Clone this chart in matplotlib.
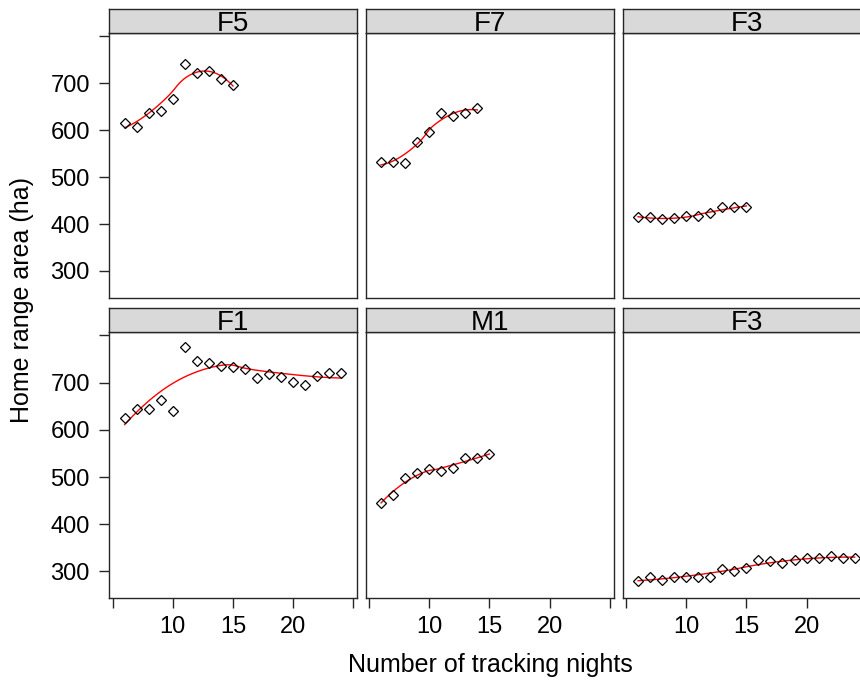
import matplotlib
matplotlib.use("Agg")
import matplotlib.pyplot as plt
import numpy as np

plt.rcParams["font.family"] = ["Liberation Sans", "DejaVu Sans"]

# home range estimates per animal against number of tracking nights
nights_f5 = [6, 7, 8, 9, 10, 11, 12, 13, 14, 15]
area_f5 = [615, 608, 637, 640, 667, 742, 723, 726, 710, 697]

nights_f7 = [6, 7, 8, 9, 10, 11, 12, 13, 14]
area_f7 = [533, 532, 530, 574, 596, 637, 631, 637, 647]

nights_f3a = [6, 7, 8, 9, 10, 11, 12, 13, 14, 15]
area_f3a = [415, 415, 410, 412, 418, 417, 424, 437, 436, 436]

nights_f1 = list(range(6, 25))
area_f1 = [626, 645, 645, 663, 639, 775, 746, 742, 736, 733,
           729, 709, 718, 712, 701, 694, 715, 720, 720]

nights_m1 = list(range(6, 16))
area_m1 = [446, 462, 498, 509, 516, 513, 520, 540, 540, 548]

nights_f3b = list(range(6, 25))
area_f3b = [279, 288, 282, 288, 288, 288, 288, 306, 301, 307,
            324, 322, 318, 324, 328, 329, 332, 329, 329]

panel_names = ["F5", "F7", "F3", "F1", "M1", "F3"]
panel_x = [nights_f5, nights_f7, nights_f3a, nights_f1, nights_m1, nights_f3b]
panel_y = [area_f5, area_f7, area_f3a, area_f1, area_m1, area_f3b]

y_ticks = [300, 400, 500, 600, 700, 800]
y_ticklabels = ["300", "400", "500", "600", "700", ""]
x_ticks = [5, 10, 15, 20, 25]
x_ticklabels = ["", "10", "15", "20", ""]


def loess(x, y, xs, span=1.0, degree=2):
    """Local quadratic fit with tricube weights over the q nearest points."""
    x = np.asarray(x, float)
    y = np.asarray(y, float)
    q = int(np.floor(x.size * span))
    out = []
    for x0 in xs:
        d = np.abs(x - x0)
        h = np.sort(d)[q - 1] * 1.0001
        w = np.clip(1 - (d / h) ** 3, 0, None) ** 3
        X = np.vander(x - x0, degree + 1, increasing=True)
        sw = np.sqrt(w)
        beta, *_ = np.linalg.lstsq(X * sw[:, None], y * sw, rcond=None)
        out.append(beta[0])
    return np.array(out)


W, H = 860, 689
fig = plt.figure(figsize=(W / 100, H / 100), dpi=100)

col_left = [109.3, 365.7, 622.7]
col_w = 248.0
row_panel = [(32.7, 297.7), (331.7, 598.3)]
strip_h = 23.4
edge = "#262626"

for i, (name, xs, ys) in enumerate(zip(panel_names, panel_x, panel_y)):
    r, c = divmod(i, 3)
    top, bot = row_panel[r]
    left = col_left[c]
    ax = fig.add_axes([left / W, (H - bot) / H, col_w / W, (bot - top) / H])
    st = fig.add_axes([left / W, (H - top) / H, col_w / W, strip_h / H])

    ax.plot(xs, ys, linestyle="none", marker="D", ms=5, mfc="none",
            mec="black", mew=0.9, zorder=3)
    xg = np.linspace(min(xs), max(xs), 60)
    ax.plot(xg, loess(xs, ys, xg), color="red", lw=1.0, zorder=2)

    ax.set_xlim(4.72, 25.33)
    ax.set_ylim(243, 808)
    for sp in ax.spines.values():
        sp.set_color(edge)
        sp.set_linewidth(1.0)

    ax.set_yticks(y_ticks)
    ax.set_xticks(x_ticks)
    ax.tick_params(axis="both", direction="out", length=7, width=1.0,
                   color=edge, labelsize=17)
    if c == 0:
        ax.set_yticklabels(y_ticklabels)
        ax.tick_params(axis="y", pad=7)
    else:
        ax.tick_params(axis="y", left=False, labelleft=False)
    if r == 1:
        ax.set_xticklabels(x_ticklabels)
        ax.tick_params(axis="x", pad=6)
    else:
        ax.tick_params(axis="x", bottom=False, labelbottom=False)

    st.set_facecolor("#d9d9d9")
    st.set_xticks([])
    st.set_yticks([])
    for sp in st.spines.values():
        sp.set_color(edge)
        sp.set_linewidth(1.0)
    st.text(0.5, 0.38, name, transform=st.transAxes, ha="center",
            va="center", fontsize=20, clip_on=False)

fig.text(490 / W, (H - 665) / H, "Number of tracking nights",
         ha="center", va="center", fontsize=18)
fig.text(22 / W, (H - 300) / H, "Home range area (ha)",
         ha="center", va="center", rotation=90, fontsize=18)

fig.savefig("out.png", dpi=100, facecolor="white")
